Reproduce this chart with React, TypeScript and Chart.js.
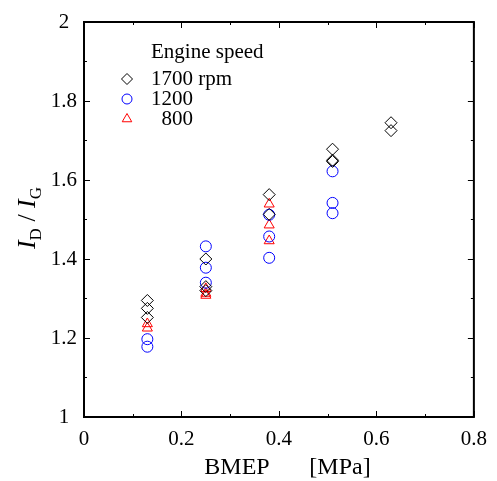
import React, { useEffect, useRef } from "react";
import { Chart, registerables } from "chart.js";

Chart.register(...registerables);

const xTickLabels = ["0", "0.2", "0.4", "0.6", "0.8"];
const yTickLabels = ["1", "1.2", "1.4", "1.6", "1.8", "2"];

const seriesNames = ["1700 rpm", "1200", "  800"];
const legendTitle = "Engine speed";
const xTitleParts = ["BMEP", "[MPa]"];

const bmep1700 = [0.13, 0.13, 0.13, 0.25, 0.25, 0.25, 0.38, 0.38, 0.51, 0.51, 0.51, 0.63, 0.63];
const ratio1700 = [1.295, 1.275, 1.252, 1.4, 1.33, 1.32, 1.563, 1.513, 1.678, 1.65, 1.647, 1.745, 1.725];

const bmep1200 = [0.13, 0.13, 0.25, 0.25, 0.25, 0.38, 0.38, 0.38, 0.51, 0.51, 0.51];
const ratio1200 = [1.197, 1.178, 1.432, 1.378, 1.34, 1.512, 1.457, 1.403, 1.622, 1.542, 1.516];

const bmep800 = [0.13, 0.13, 0.25, 0.25, 0.25, 0.38, 0.38, 0.38];
const ratio800 = [1.236, 1.225, 1.325, 1.313, 1.308, 1.539, 1.486, 1.446];

const SERIF = "'Liberation Serif', 'Times New Roman', serif";

const framePlugin = {
  id: "frame",
  afterDatasetsDraw(chart: any) {
    const { ctx, chartArea: a, scales } = chart;
    const xs = scales.x;
    const ys = scales.y;
    ctx.save();
    ctx.strokeStyle = "#000";
    ctx.lineWidth = 1;
    const majorLen = 6;
    const minorLen = 3;
    ctx.beginPath();
    for (let v = 0; v <= 0.8001; v += 0.1) {
      const px = Math.round(xs.getPixelForValue(v)) + 0.5;
      const major = Math.abs(Math.round(v * 10) % 2) === 0;
      const len = major ? majorLen : minorLen;
      ctx.moveTo(px, a.bottom);
      ctx.lineTo(px, a.bottom - len);
      ctx.moveTo(px, a.top);
      ctx.lineTo(px, a.top + len);
    }
    for (let v = 1; v <= 2.0001; v += 0.1) {
      const py = Math.round(ys.getPixelForValue(v)) + 0.5;
      const major = Math.abs(Math.round(v * 10) % 2) === 0;
      const len = major ? majorLen : minorLen;
      ctx.moveTo(a.left, py);
      ctx.lineTo(a.left + len, py);
      ctx.moveTo(a.right, py);
      ctx.lineTo(a.right - len, py);
    }
    ctx.stroke();
    ctx.lineWidth = 2;
    ctx.strokeRect(a.left, a.top, a.right - a.left, a.bottom - a.top);

    // Legend
    const lx = 127;
    const tx = 151;
    ctx.fillStyle = "#000";
    ctx.font = `21px ${SERIF}`;
    ctx.textBaseline = "middle";
    ctx.textAlign = "left";
    ctx.fillText(legendTitle, tx, 52);
    const rows = [79, 99, 119];
    chart.data.datasets.forEach((ds: any, i: number) => {
      const y = rows[i];
      ctx.fillStyle = "#000";
      ctx.fillText(seriesNames[i], tx, y);
      ctx.strokeStyle = ds.borderColor;
      ctx.lineWidth = 1;
      ctx.beginPath();
      const r = 5.5;
      if (ds.pointStyle === "rectRot") {
        ctx.moveTo(lx - r, y);
        ctx.lineTo(lx, y - r);
        ctx.lineTo(lx + r, y);
        ctx.lineTo(lx, y + r);
        ctx.closePath();
      } else if (ds.pointStyle === "circle") {
        ctx.arc(lx, y, 5, 0, Math.PI * 2);
      } else {
        ctx.moveTo(lx, y - r);
        ctx.lineTo(lx + r * 0.866, y + r * 0.5);
        ctx.lineTo(lx - r * 0.866, y + r * 0.5);
        ctx.closePath();
      }
      ctx.stroke();
    });

    // X title
    ctx.fillStyle = "#000";
    ctx.font = `24px ${SERIF}`;
    ctx.textAlign = "center";
    ctx.textBaseline = "middle";
    ctx.fillText(xTitleParts[0], 237, 468);
    ctx.fillText(xTitleParts[1], 340, 468);

    // Y title: I_D / I_G rotated
    ctx.save();
    ctx.translate(26, 218);
    ctx.rotate(-Math.PI / 2);
    const big = `italic 26px ${SERIF}`;
    const small = `17px ${SERIF}`;
    const norm = `26px ${SERIF}`;
    const parts: [string, string, number][] = [
      ["I", big, 0],
      ["D", small, 6],
      [" / ", norm, 0],
      ["I", big, 0],
      ["G", small, 6],
    ];
    let total = 0;
    parts.forEach(([t, f]) => {
      ctx.font = f;
      total += ctx.measureText(t).width;
    });
    let cx = -total / 2;
    ctx.textAlign = "left";
    ctx.textBaseline = "alphabetic";
    parts.forEach(([t, f, dy]) => {
      ctx.font = f;
      ctx.fillText(t, cx, 9 + dy);
      cx += ctx.measureText(t).width;
    });
    ctx.restore();
    ctx.restore();
  },
};

export default function App() {
  const ref = useRef<HTMLCanvasElement>(null);
  useEffect(() => {
    document.body.style.margin = "0";
    const toPts = (xs: number[], ys: number[]) => xs.map((x, i) => ({ x, y: ys[i] }));
    const chart = new Chart(ref.current!, {
      type: "scatter",
      data: {
        datasets: [
          {
            label: seriesNames[0],
            data: toPts(bmep1700, ratio1700),
            pointStyle: "rectRot",
            pointRadius: 6,
            borderColor: "#000000",
            backgroundColor: "rgba(0,0,0,0)",
            borderWidth: 1,
          },
          {
            label: seriesNames[1],
            data: toPts(bmep1200, ratio1200),
            pointStyle: "circle",
            pointRadius: 5.5,
            borderColor: "#0000ff",
            backgroundColor: "rgba(0,0,0,0)",
            borderWidth: 1,
          },
          {
            label: seriesNames[2],
            data: toPts(bmep800, ratio800),
            pointStyle: "triangle",
            pointRadius: 5.8,
            borderColor: "#ff0000",
            backgroundColor: "rgba(0,0,0,0)",
            borderWidth: 1,
          },
        ] as any,
      },
      options: {
        animation: false,
        responsive: false,
        layout: { padding: { top: 22, right: 18, left: 0, bottom: 0 } },
        plugins: { legend: { display: false }, tooltip: { enabled: false } },
        scales: {
          x: {
            type: "linear",
            min: 0,
            max: 0.8,
            border: { display: false },
            grid: { display: false, drawTicks: false },
            ticks: {
              stepSize: 0.2,
              padding: 10,
              color: "#000",
              font: { family: SERIF, size: 21 },
              callback: (_v: any, i: number) => xTickLabels[i],
            },
            afterFit: (s: any) => {
              s.height = 64;
            },
          },
          y: {
            type: "linear",
            min: 1,
            max: 2,
            border: { display: false },
            grid: { display: false, drawTicks: false },
            ticks: {
              stepSize: 0.2,
              padding: 7,
              crossAlign: "center",
              color: "#000",
              font: { family: SERIF, size: 21 },
              callback: (_v: any, i: number) => yTickLabels[i],
            },
            afterFit: (s: any) => {
              s.width = 84;
            },
          },
        },
      } as any,
      plugins: [framePlugin],
    });
    return () => chart.destroy();
  }, []);
  return (
    <div style={{ width: 497, height: 481, background: "#fff" }}>
      <canvas ref={ref} width={497} height={481} style={{ display: "block" }} />
    </div>
  );
}
